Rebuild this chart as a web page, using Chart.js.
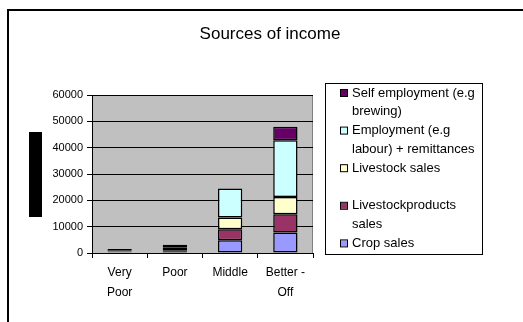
<!DOCTYPE html>
<html lang="en">
<head>
    <meta charset="UTF-8">
    <title>Sources of income</title>
    <style>
        body { margin: 0; background: #fff; }
    </style>
</head>
<body>
    <script src="https://cdn.jsdelivr.net/npm/chart.js@4.4.1/dist/chart.umd.min.js"></script>
    <canvas id="income" width="523" height="322"></canvas>
    <script>
        // values
        var categories = [['Very', 'Poor'], 'Poor', 'Middle', ['Better -', 'Off']];
        var cropSales = [300, 400, 4800, 7800];
        var livestockProductSales = [200, 300, 4200, 6900];
        var livestockSales = [200, 300, 4500, 6600];
        var employment = [200, 1200, 11000, 21500];
        var selfEmployment = [600, 900, 0, 5100];
        var yTicks = [0, 10000, 20000, 30000, 40000, 50000, 60000];

        var fontFamily = '"Liberation Sans", Arial, sans-serif';

        function series(label, lines, values, colour) {
            return {
                label: label,
                legendLines: lines,
                data: values,
                backgroundColor: colour,
                borderColor: '#000',
                borderWidth: 1.5,
                borderSkipped: false
            };
        }

        var data = {
            labels: categories,
            datasets: [
                series('Crop sales', ['Crop sales'], cropSales, '#9999FF'),
                series('Livestockproducts sales', ['Livestockproducts', 'sales'], livestockProductSales, '#993366'),
                series('Livestock sales', ['Livestock sales', ''], livestockSales, '#FFFFCC'),
                series('Employment (e.g labour) + remittances', ['Employment (e.g', 'labour) + remittances'], employment, '#CCFFFF'),
                series('Self employment (e.g brewing)', ['Self employment (e.g', 'brewing)'], selfEmployment, '#660066')
            ]
        };

        // frame, grey plot area, title, blacked-out axis title, legend box
        var excelLook = {
            id: 'excelLook',
            beforeDraw: function (chart) {
                var ctx = chart.ctx, a = chart.chartArea;
                ctx.save();
                ctx.fillStyle = '#fff';
                ctx.fillRect(0, 0, chart.width, chart.height);
                ctx.fillStyle = '#000';
                ctx.fillRect(7, 9, 2, chart.height - 9);
                ctx.fillRect(7, 9, chart.width - 7, 2);
                ctx.fillStyle = '#C0C0C0';
                ctx.fillRect(a.left, a.top, a.right - a.left, a.bottom - a.top);
                ctx.strokeStyle = '#808080';
                ctx.beginPath();
                ctx.moveTo(a.right - 0.5, a.top);
                ctx.lineTo(a.right - 0.5, a.bottom);
                ctx.stroke();
                ctx.restore();
            },
            afterDraw: function (chart) {
                var ctx = chart.ctx;
                ctx.save();
                ctx.fillStyle = '#000';
                ctx.font = '17px ' + fontFamily;
                ctx.textAlign = 'center';
                ctx.textBaseline = 'middle';
                ctx.fillText('Sources of income', 270, 34);

                // axis title is a black block in the source
                ctx.fillRect(29, 132, 13, 85);

                // legend
                ctx.strokeStyle = '#000';
                ctx.lineWidth = 1;
                ctx.strokeRect(325.5, 83.5, 157, 171);
                ctx.font = '13px ' + fontFamily;
                ctx.textAlign = 'left';
                var y = 93, lh = 18.8;
                var sets = chart.data.datasets.slice().reverse();
                sets.forEach(function (ds) {
                    ctx.fillStyle = ds.backgroundColor;
                    ctx.fillRect(341, y - 3, 6, 6);
                    ctx.strokeRect(340.5, y - 3.5, 7, 7);
                    ctx.fillStyle = '#000';
                    ds.legendLines.forEach(function (line, i) {
                        ctx.fillText(line, 352, y + i * lh);
                    });
                    y += ds.legendLines.length * lh;
                });
                ctx.restore();
            }
        };

        var options = {
            responsive: false,
            animation: false,
            layout: {
                padding: { left: 0, right: 210, top: 95, bottom: 19 }
            },
            datasets: {
                bar: {
                    categoryPercentage: 1,
                    barPercentage: 0.44
                }
            },
            scales: {
                x: {
                    stacked: true,
                    grid: {
                        drawOnChartArea: false,
                        drawTicks: true,
                        tickLength: 5,
                        color: '#000'
                    },
                    border: { color: '#000' },
                    ticks: {
                        color: '#000',
                        padding: 5,
                        maxRotation: 0,
                        font: { family: fontFamily, size: 12, lineHeight: 1.65 }
                    },
                    afterFit: function (scale) { scale.height = 50; }
                },
                y: {
                    stacked: true,
                    min: 0,
                    max: 60000,
                    afterBuildTicks: function (scale) {
                        scale.ticks = yTicks.map(function (v) { return { value: v }; });
                    },
                    grid: {
                        color: '#000',
                        tickLength: 5
                    },
                    border: { color: '#000' },
                    ticks: {
                        color: '#000',
                        padding: 4,
                        font: { family: fontFamily, size: 11 },
                        callback: function (value) { return String(value); }
                    },
                    afterFit: function (scale) { scale.width = 92; }
                }
            },
            plugins: {
                legend: { display: false },
                title: { display: false },
                tooltip: { enabled: false }
            }
        };

        window.onload = function () {
            var ctx = document.getElementById('income').getContext('2d');
            window.incomeChart = new Chart(ctx, {
                type: 'bar',
                data: data,
                options: options,
                plugins: [excelLook]
            });
        };
    </script>
</body>
</html>
